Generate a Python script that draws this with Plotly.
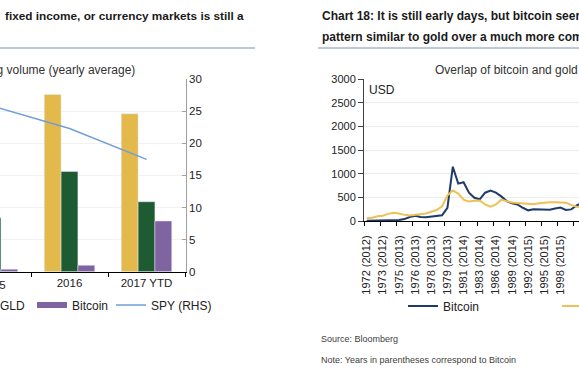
import plotly.graph_objects as go

W, H = 579, 382


def px(x):
    return x / W


def py(y):
    return 1 - y / H


FONT = "Liberation Sans, Arial, sans-serif"

# ---------------- Left chart: trading volume (yearly average) ----------------
vol_years = ["2015", "2016", "2017 YTD"]
gold_vol = [23.0, 27.6, 24.6]
gld_vol = [8.4, 15.6, 10.9]
btc_vol = [0.4, 1.0, 7.9]
spy_vol = [25.8, 22.3, 17.5]
spy_ticks = [0, 5, 10, 15, 20, 25, 30]

# ---------------- Right chart: overlap of bitcoin and gold ----------------
btc_price = [5, 5, 5, 8, 10, 12, 20, 40, 85, 110, 85, 78, 90, 95, 120, 280,
             1147, 790, 820, 600, 490, 458, 598, 641, 600, 520, 420, 373, 350,
             280, 225, 250, 248, 240, 240, 265, 285, 235, 245, 330, 380]
gold_price = [56, 70, 100, 110, 150, 176, 160, 130, 118, 130, 140, 160, 195,
              232, 310, 540, 645, 580, 450, 410, 430, 435, 350, 305, 350, 450,
              420, 390, 380, 372, 362, 352, 375, 390, 394, 394, 392, 385, 340,
              300, 280]
overlap_labels = ["1972 (2012)", "1973 (2012)", "1975 (2013)", "1976 (2013)",
                  "1978 (2013)", "1979 (2013)", "1981 (2014)", "1983 (2014)",
                  "1986 (2014)", "1989 (2014)", "1992 (2015)", "1995 (2015)",
                  "1998 (2015)", "1997 (2015)"]
label_step = 3
price_ticks = [0, 500, 1000, 1500, 2000, 2500, 3000]

C_GOLDBAR = "#e3b94b"
C_GLD = "#1e5a32"
C_BTCBAR = "#8064a2"
C_SPY = "#6f9fd6"
C_BTC = "#1f3b6a"
C_GOLD = "#edc155"

fig = go.Figure()

# left chart bars
fig.add_trace(go.Bar(x=vol_years, y=gold_vol, marker_color=C_GOLDBAR, name="Gold",
                     showlegend=False, xaxis="x", yaxis="y"))
fig.add_trace(go.Bar(x=vol_years, y=gld_vol, marker_color=C_GLD, name="GLD",
                     showlegend=False, xaxis="x", yaxis="y"))
fig.add_trace(go.Bar(x=vol_years, y=btc_vol, marker_color=C_BTCBAR, name="Bitcoin",
                     showlegend=False, xaxis="x", yaxis="y"))
fig.add_trace(go.Scatter(x=vol_years, y=spy_vol, mode="lines", name="SPY (RHS)",
                         line=dict(color=C_SPY, width=1.5), showlegend=False,
                         xaxis="x", yaxis="y2"))
# legend entries (Excel-style wide swatches), one legend per entry for placement
legend_items = [("Gold", C_GOLDBAR, 6, -110), ("GLD", C_GLD, 6, -40),
                ("Bitcoin", C_BTCBAR, 6, 32), ("SPY (RHS)", C_SPY, 1.5, 111)]
for k, (nm, col, wd, _) in enumerate(legend_items):
    fig.add_trace(go.Scatter(x=[None], y=[None], mode="lines", name=nm,
                             line=dict(color=col, width=wd), legend="legend%d" % (k + 4),
                             xaxis="x", yaxis="y"))

# right chart lines
idx = list(range(len(btc_price)))
fig.add_trace(go.Scatter(x=idx, y=btc_price, mode="lines", name="Bitcoin",
                         line=dict(color=C_BTC, width=2), legend="legend2",
                         xaxis="x2", yaxis="y3"))
fig.add_trace(go.Scatter(x=idx, y=gold_price, mode="lines", name="Gold",
                         line=dict(color=C_GOLD, width=2), legend="legend3",
                         xaxis="x2", yaxis="y3"))

tick_pos = [i * label_step for i in range(len(overlap_labels))]
minor_pos = [p - 0.5 for p in tick_pos] + [tick_pos[-1] + 2.5]

x_right_end = (W - 364) / (16.15 / 3) - 0.5

leg_common = dict(orientation="h", xanchor="left", yanchor="middle",
                  font=dict(size=12, color="#222222"), bgcolor="rgba(0,0,0,0)")

fig.update_layout(
    width=W, height=H,
    margin=dict(l=0, r=0, t=0, b=0, autoexpand=False),
    paper_bgcolor="white", plot_bgcolor="white",
    font=dict(family=FONT, size=12, color="#222222"),
    barmode="group", bargap=0.344, bargroupgap=0,
    xaxis=dict(domain=[0, 185.7 / W], type="category", range=[0.0974, 2.509],
               showline=True, linecolor="#000000", linewidth=1, tickangle=0,
               ticks="outside", tickson="boundaries", ticklen=4, tickcolor="#000000",
               tickfont=dict(size=11.5, color="#222222"), anchor="y", showgrid=False),
    yaxis=dict(domain=[py(271.7), py(79.1)], range=[0, 30], visible=False,
               anchor="x"),
    yaxis2=dict(overlaying="y", side="right", anchor="x", range=[0, 30],
                tickvals=spy_ticks, showline=True, linecolor="#a0a0a0", linewidth=1,
                ticks="inside", ticklen=4, tickcolor="#a0a0a0",
                tickfont=dict(size=11.5, color="#222222"),
                showgrid=True, gridcolor="#f2f2f2", zeroline=False),
    xaxis2=dict(domain=[364 / W, 1], range=[-0.5, x_right_end], anchor="y3",
                tickmode="array", tickvals=tick_pos, ticktext=overlap_labels,
                tickangle=-90, ticks="outside", ticklen=5,
                tickcolor="rgba(0,0,0,0)", tickfont=dict(size=11, color="#222222"),
                ticklabelstandoff=4,
                minor=dict(tickmode="array", tickvals=minor_pos, ticks="outside",
                           ticklen=4, tickcolor="#000000", showgrid=False),
                showline=True, linecolor="#000000", linewidth=1, showgrid=False,
                zeroline=False),
    yaxis3=dict(domain=[py(221), py(79)], range=[0, 3000], anchor="x2",
                tickvals=price_ticks, showline=True, linecolor="#404040", linewidth=1,
                ticks="outside", ticklen=5, tickcolor="#404040",
                tickfont=dict(size=11, color="#222222"),
                showgrid=True, gridcolor="#ececec", zeroline=False),
    legend2=dict(x=px(403), y=py(306), **leg_common),
    legend3=dict(x=px(557), y=py(306), **leg_common),
)
for k, (_, _, _, lx) in enumerate(legend_items):
    fig.update_layout({"legend%d" % (k + 4): dict(x=px(lx), y=py(305), **leg_common)})

ann = []


def text(t, x, y, size=12, bold=False, anchor="left", color="#222222"):
    ann.append(dict(text=("<b>%s</b>" % t) if bold else t, x=px(x), y=py(y),
                    xref="paper", yref="paper", xanchor=anchor, yanchor="middle",
                    showarrow=False, font=dict(family=FONT, size=size, color=color)))


text("fixed income, or currency markets is still a", 3, 16, 11.8, True, color="#1a1a1a")
text("Trading volume (yearly average)", 137, 70, 12, anchor="right", color="#333333")
text("2015", -7.5, 285, 11.5, anchor="center")
text("Chart 18: It is still early days, but bitcoin seems", 320, 16, 12, True, color="#1a1a1a")
text("pattern similar to gold over a much more compressed", 320, 37, 12, True, color="#1a1a1a")
text("Overlap of bitcoin and gold", 433, 70, 12, color="#333333")
text("USD", 367, 90, 12)
text("Source: Bloomberg", 319, 339, 9, color="#404040")
text("Note: Years in parentheses correspond to Bitcoin", 319, 360, 9, color="#404040")
fig.update_layout(annotations=ann)

fig.update_layout(shapes=[
    dict(type="line", xref="paper", yref="paper", x0=0, x1=px(255), y0=py(48), y1=py(48),
         line=dict(color="#a7b6cb", width=1.5)),
    dict(type="line", xref="paper", yref="paper", x0=px(318), x1=1, y0=py(48), y1=py(48),
         line=dict(color="#a7b6cb", width=1.5)),
])

fig.write_html("out.html", config={"displayModeBar": False},
               post_script="document.body.style.margin='0px';document.body.style.padding='0px';")
